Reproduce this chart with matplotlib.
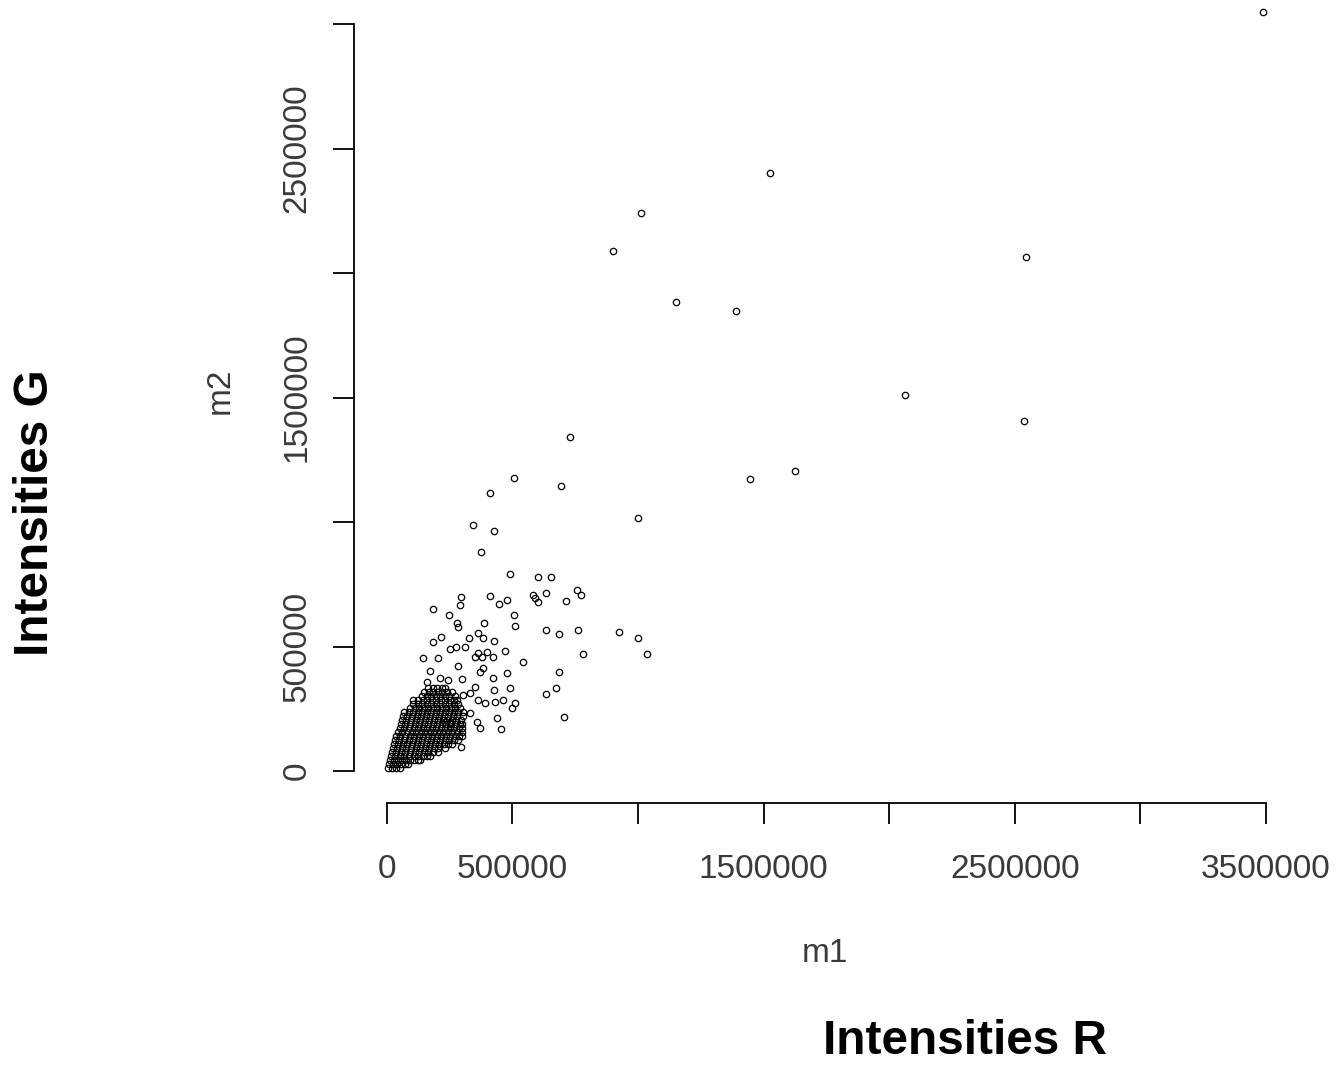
import numpy as np
import matplotlib.pyplot as plt

plt.rcParams['font.family'] = ['Liberation Sans', 'DejaVu Sans']

W, H = 1338, 1066

# Isolated points (thousands)
m1_sparse = [3487, 1525, 1011, 900, 2544, 1150, 1389, 2062, 2536, 729, 1624, 1445, 506, 693, 410, 999, 342, 426, 374,
             490, 601, 653, 633, 581, 601, 589, 756, 772, 713, 410, 446, 478, 295, 291, 183, 247, 279, 283, 386, 506,
             510, 633, 685, 760, 924, 999, 1035, 780, 326, 362, 382, 426, 215, 183, 275, 311, 251, 470, 143, 203,
             362, 398, 422, 378, 350, 541, 283, 171, 382, 370, 478, 685, 299, 422, 211, 159, 243, 490, 350, 426,
             673, 633, 362, 390, 430, 462, 510, 498, 330, 303, 438, 454, 705, 370, 330, 358, 295, 104, 251, 231]
m2_sparse = [3048, 2402, 2241, 2088, 2064, 1884, 1847, 1510, 1406, 1341, 1205, 1173, 1177, 1145, 1116, 1016, 988, 964, 880,
             791, 779, 779, 715, 707, 679, 695, 727, 707, 683, 703, 671, 687, 699, 667, 651, 627, 594, 578, 594, 627,
             582, 566, 550, 566, 558, 534, 470, 470, 534, 554, 534, 522, 538, 518, 498, 498, 490, 482, 454, 454,
             474, 478, 458, 458, 458, 438, 422, 402, 414, 398, 394, 398, 369, 373, 373, 357, 365, 333, 337, 325,
             333, 309, 285, 273, 277, 285, 273, 253, 313, 305, 213, 169, 217, 173, 233, 197, 96, 285, 193, 197]

# Solid cluster near the origin, row by row (thousands)
m2_rows = [12, 28, 44, 60, 76, 92, 108, 124, 141, 157, 173, 189, 205, 221, 237, 253, 269, 285, 301, 317, 333]
m1_rows = [
    [4, 20, 36, 52],
    [8, 24, 40, 56, 72, 84],
    [12, 28, 44, 60, 76, 92, 108, 124, 131],
    [16, 34, 52, 70, 88, 106, 124, 142, 160, 171],
    [20, 38, 56, 74, 92, 110, 128, 146, 164, 182, 203],
    [24, 42, 60, 78, 96, 114, 132, 150, 168, 186, 204, 231],
    [28, 46, 64, 82, 100, 118, 136, 154, 172, 190, 208, 226, 244, 259],
    [32, 50, 68, 86, 104, 122, 140, 158, 176, 194, 212, 230, 248, 266, 283],
    [36, 54, 72, 90, 108, 126, 144, 162, 180, 198, 216, 234, 252, 270, 288, 299],
    [44, 62, 80, 98, 116, 134, 152, 170, 188, 206, 224, 242, 260, 278, 299],
    [52, 70, 88, 106, 124, 142, 160, 178, 196, 214, 232, 250, 268, 286, 299],
    [56, 74, 92, 110, 128, 146, 164, 182, 200, 218, 236, 254, 272, 290, 299],
    [60, 78, 96, 114, 132, 150, 168, 186, 204, 222, 240, 258, 276, 294],
    [64, 82, 100, 118, 136, 154, 172, 190, 208, 226, 244, 262, 280, 303],
    [68, 86, 104, 122, 140, 158, 176, 194, 212, 230, 248, 266, 284, 303],
    [92, 110, 128, 146, 164, 182, 200, 218, 236, 254, 272, 291],
    [104, 122, 140, 158, 176, 194, 212, 230, 248, 266, 283],
    [124, 142, 160, 178, 196, 214, 232, 250, 268, 279],
    [140, 158, 176, 194, 212, 230, 248, 271],
    [148, 166, 184, 202, 220, 238, 259],
    [164, 182, 200, 218, 231],
]

x_ticks = [0, 500000, 1000000, 1500000, 2000000, 2500000, 3000000, 3500000]
x_labels = ['0', '500000', '', '1500000', '', '2500000', '', '3500000']
y_ticks = [0, 500000, 1000000, 1500000, 2000000, 2500000, 3000000]
y_labels = ['0', '500000', '', '1500000', '', '2500000', '']

m1_dense = [v for row in m1_rows for v in row]
m2_dense = [y for y, row in zip(m2_rows, m1_rows) for v in row]
m1 = np.array(m1_sparse + m1_dense) * 1000
m2 = np.array(m2_sparse + m2_dense) * 1000

fig = plt.figure(figsize=(W / 100, H / 100), dpi=100)
ax = fig.add_axes([354 / W, 1 - 803 / H, (1266 - 354) / W, (803 - 24) / H])

ax.plot(m1, m2, 'o', mfc='none', mec='black', ms=4.6, mew=0.9, clip_on=False)

ax.set_xlim(-131000, 3500000)
ax.set_ylim(-128500, 3000000)

# R style detached axes
ax.spines['top'].set_visible(False)
ax.spines['right'].set_visible(False)
ax.spines['left'].set_bounds(0, 3000000)
ax.spines['bottom'].set_bounds(0, 3500000)
ax.spines['left'].set_linewidth(1.3)
ax.spines['bottom'].set_linewidth(1.3)

tick_grey = '#3a3a3a'
ax.set_xticks(x_ticks)
ax.set_xticklabels(x_labels)
ax.set_yticks(y_ticks)
ax.set_yticklabels(y_labels, rotation=90, va='center')
ax.tick_params(axis='x', length=15, width=1.3, pad=22, labelsize=24, labelcolor=tick_grey)
ax.tick_params(axis='y', length=15, width=1.3, pad=15, labelsize=24, labelcolor=tick_grey)

fig.text(825 / W, 1 - 953 / H, 'm1', ha='center', va='center', fontsize=24, color=tick_grey)
fig.text(220 / W, 1 - 391 / H, 'm2', ha='center', va='center', rotation=90, fontsize=24, color=tick_grey)

fig.text(965 / W, 1 - 1041 / H, 'Intensities R', ha='center', va='center', fontsize=34.4, fontweight='bold')
fig.text(36 / W, 1 - 513 / H, 'Intensities G', ha='center', va='center', rotation=90, fontsize=34.4, fontweight='bold')

fig.savefig('out.png', dpi=100)
